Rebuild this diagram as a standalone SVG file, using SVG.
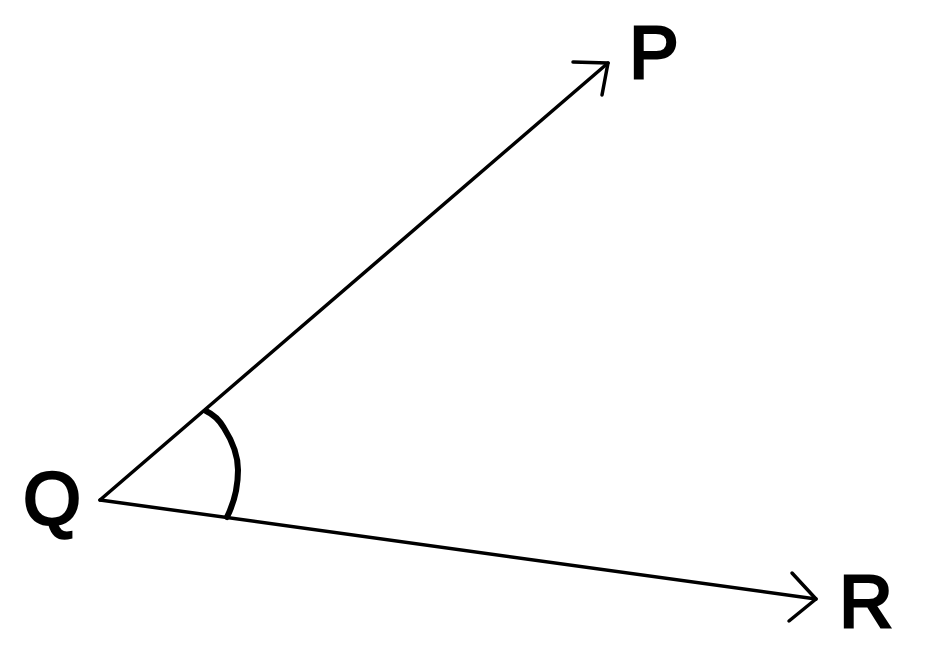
<svg xmlns="http://www.w3.org/2000/svg" width="935" height="670" viewBox="0 0 935 670">
<style>
.ln{fill:none;stroke:#000;stroke-width:3.5;stroke-linecap:round;stroke-linejoin:round}
.arc{fill:none;stroke:#000;stroke-width:6;stroke-linecap:round}
.lbl{font-family:"Liberation Sans",Arial,sans-serif;font-size:74px;fill:#000;stroke:#000;stroke-width:3;text-anchor:middle}
</style>
<rect width="935" height="670" fill="#fff"/>
<g id="connectors">
<path class="ln" d="M100,500 L608,63"/>
<path class="ln" d="M573,62 L608,63 L602,95"/>
<path class="ln" d="M100,500 L816,599"/>
<path class="ln" d="M792,573 L816,599 L789,621"/>
<path class="arc" d="M206,411 Q217,416 224,428 Q238,450 238,470 Q238,495 227,517"/>
</g>
<g id="Q"><text class="lbl" x="52" y="524">Q</text></g>
<g id="P"><text class="lbl" x="654" y="78">P</text></g>
<g id="R"><text class="lbl" x="866" y="627">R</text></g>
</svg>
